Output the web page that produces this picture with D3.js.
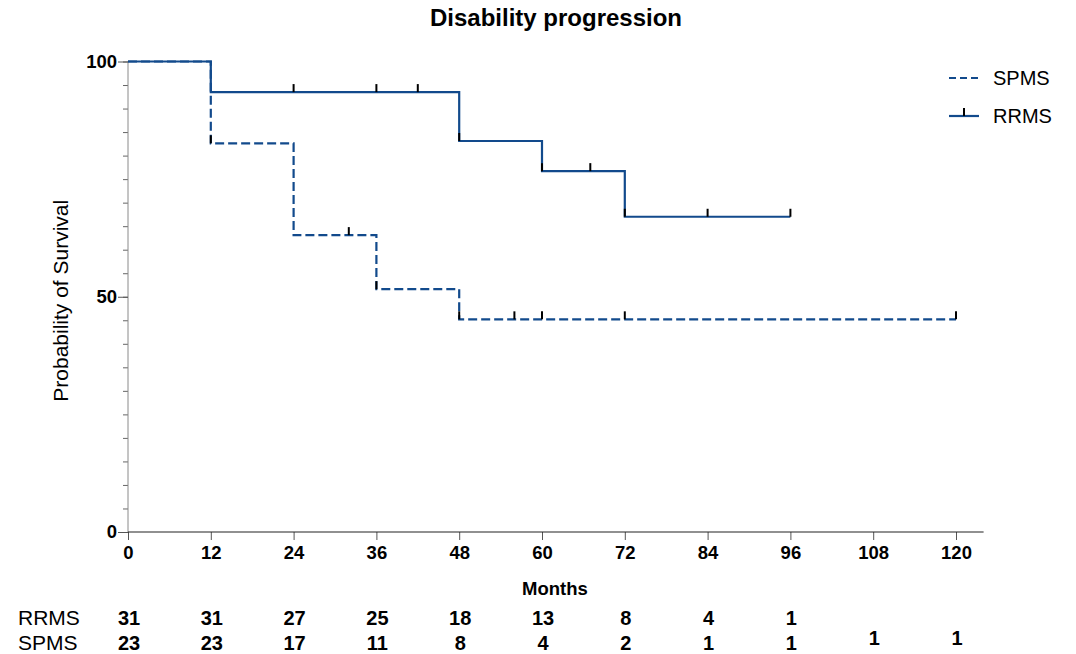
<!DOCTYPE html>
<html><head><meta charset="utf-8">
<script src="https://cdn.jsdelivr.net/npm/d3@7"></script>
<style>
body{margin:0;background:#fff}
svg{display:block}
text{font-family:"Liberation Sans",Arial,sans-serif;fill:#000}
</style>
</head><body><svg id="chart" width="1076" height="654"></svg>
<script>
const chartTitle = "Disability progression";
const xLabel = "Months";
const yLabel = "Probability of Survival";
const groupNames = ["SPMS", "RRMS"];

// Kaplan–Meier steps: month each level starts, and the survival level (%)
const rrmsStepTimes = [0, 12, 48, 60, 72];
const rrmsStepSurvival = [100, 93.5, 83.1, 76.7, 67.0];
const rrmsLastFollowUp = 96;
const rrmsCensorTimes = [24, 36, 42, 48, 60, 67, 72, 84, 96];

const spmsStepTimes = [0, 12, 24, 36, 48];
const spmsStepSurvival = [100, 82.6, 63.1, 51.6, 45.2];
const spmsLastFollowUp = 120;
const spmsCensorTimes = [12, 32, 36, 48, 56, 60, 72, 120];

const xTicks = [0, 12, 24, 36, 48, 60, 72, 84, 96, 108, 120];
const yTicks = [0, 50, 100];
const yMinorTicks = d3.range(0, 101, 5);

// Number at risk below the axis
const rrmsAtRisk = [31, 31, 27, 25, 18, 13, 8, 4, 1, null, null];
const spmsAtRisk = [23, 23, 17, 11, 8, 4, 2, 1, 1, 1, 1];

const lineColor = "#124a8c";
const svg = d3.select("#chart");

const x = d3.scaleLinear().domain([0, 120]).range([128, 956]);
const y = d3.scaleLinear().domain([0, 100]).range([532, 61.5]);
const xAxisExtent = 124;

// title
svg.append("text").attr("x", 556).attr("y", 26).attr("text-anchor", "middle")
  .style("font-size", "24px").style("font-weight", "bold").text(chartTitle);

// y axis
const yAxisG = svg.append("g").attr("transform", `translate(${x(0)},0)`);
yAxisG.call(d3.axisLeft(y).tickValues(yMinorTicks).tickSize(5).tickFormat(""))
  .call(g => g.select(".domain").remove());
yAxisG.selectAll("line").attr("stroke", "#666");
const yMajor = svg.append("g").attr("transform", `translate(${x(0)},0)`)
  .call(d3.axisLeft(y).tickValues(yTicks).tickSize(10).tickPadding(1));
yMajor.select(".domain").attr("stroke", "#8a8a8a").attr("d", `M0,${y(0)}V${y(100)}`);
yMajor.selectAll(".tick line").attr("stroke", "#555");
yMajor.selectAll("text").style("font-size", "18.5px").style("font-weight", "bold")
  .attr("font-family", null).attr("fill", "#000");

// x axis
const xAxisG = svg.append("g").attr("transform", `translate(0,${y(0)})`)
  .call(d3.axisBottom(x).tickValues(xTicks).tickSize(8).tickPadding(6));
xAxisG.select(".domain").remove();
xAxisG.append("line").attr("x1", x(0)).attr("x2", x(xAxisExtent))
  .attr("stroke", "#222").attr("stroke-width", 1.2);
xAxisG.selectAll(".tick line").attr("stroke", "#555");
xAxisG.selectAll("text").style("font-size", "18.5px").style("font-weight", "bold")
  .attr("font-family", null).attr("fill", "#000");

svg.append("text").attr("x", 555).attr("y", 595).attr("text-anchor", "middle")
  .style("font-size", "18.5px").style("font-weight", "bold").text(xLabel);

svg.append("text").attr("transform", `translate(68,${(y(0) + y(100)) / 2 + 4}) rotate(-90)`)
  .attr("text-anchor", "middle").style("font-size", "21px").text(yLabel);

// survival curves
function stepPoints(times, surv, last) {
  const pts = times.map((t, i) => [t, surv[i]]);
  pts.push([last, surv[surv.length - 1]]);
  return pts;
}
function survivalAt(times, surv, t) {
  let s = surv[0];
  times.forEach((tt, i) => { if (tt <= t) s = surv[i]; });
  return s;
}
const stepLine = d3.line().x(d => x(d[0])).y(d => y(d[1])).curve(d3.curveStepAfter);

const curves = [
  { name: "SPMS", times: spmsStepTimes, surv: spmsStepSurvival, last: spmsLastFollowUp, censor: spmsCensorTimes, dash: "9,4" },
  { name: "RRMS", times: rrmsStepTimes, surv: rrmsStepSurvival, last: rrmsLastFollowUp, censor: rrmsCensorTimes, dash: null }
];

curves.forEach(c => {
  svg.append("path").datum(stepPoints(c.times, c.surv, c.last))
    .attr("d", stepLine).attr("fill", "none").attr("stroke", lineColor)
    .attr("stroke-width", 2.2).attr("stroke-dasharray", c.dash);
});
curves.forEach(c => {
  svg.append("g").selectAll("line").data(c.censor).join("line")
    .attr("x1", d => x(d)).attr("x2", d => x(d))
    .attr("y1", d => y(survivalAt(c.times, c.surv, d)))
    .attr("y2", d => y(survivalAt(c.times, c.surv, d)) - 8)
    .attr("stroke", "#000").attr("stroke-width", 2);
});

// legend
const legend = svg.append("g");
groupNames.forEach((name, i) => {
  const ly = 78 + i * 38;
  const c = curves.find(k => k.name === name);
  legend.append("line").attr("x1", 949).attr("x2", 979).attr("y1", ly).attr("y2", ly)
    .attr("stroke", lineColor).attr("stroke-width", 2.2)
    .attr("stroke-dasharray", c.dash ? "7,4" : null);
  if (!c.dash) {
    legend.append("line").attr("x1", 964).attr("x2", 964).attr("y1", ly).attr("y2", ly - 8)
      .attr("stroke", "#000").attr("stroke-width", 2);
  }
  legend.append("text").attr("x", 993).attr("y", ly + 7).style("font-size", "20px").text(name);
});

// numbers at risk
const riskRows = [
  { name: "RRMS", values: rrmsAtRisk, yy: 625 },
  { name: "SPMS", values: spmsAtRisk, yy: 650 }
];
riskRows.forEach(r => {
  svg.append("text").attr("x", 18).attr("y", r.yy).style("font-size", "21px").text(r.name);
  r.values.forEach((v, i) => {
    if (v === null) return;
    const raised = r.name === "SPMS" && rrmsAtRisk[i] === null;
    svg.append("text").attr("x", x(xTicks[i]) + 1).attr("y", raised ? r.yy - 5 : r.yy)
      .attr("text-anchor", "middle").style("font-size", "20px").style("font-weight", "bold")
      .text(v);
  });
});
</script>
</body></html>
